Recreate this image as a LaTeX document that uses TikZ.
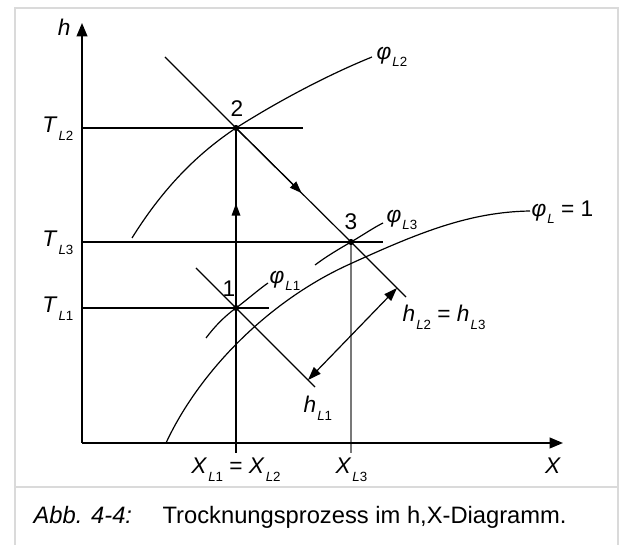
\documentclass[tikz,border=0pt]{standalone}
\usepackage{fontspec}
\setmainfont{Liberation Sans}
\usetikzlibrary{calc,arrows.meta}
\definecolor{framegray}{RGB}{218,218,218}
\definecolor{linegray}{RGB}{120,120,120}
\newcommand{\Lsub}[1]{\kern0.8pt\raisebox{-0.6ex}{\fontsize{10}{11}\selectfont\textit{L}#1}}
\newcommand{\phiL}[1]{\textit{φ}\Lsub{#1}}

\begin{document}
\begin{tikzpicture}[x=0.75pt, y=-0.75pt, line width=0.9pt,
  every node/.style={font=\fontsize{17}{19}\selectfont, inner sep=0pt},
  axis/.style={line width=1.4pt, -{Triangle[length=10pt, width=8pt]}},
  flow/.style={-{Triangle[length=9pt, width=6.5pt]}}]
  \useasboundingbox (0,0) rectangle (622,545);

  % Frame
  \draw[framegray, line width=1.6pt] (15,550) -- (15,8) -- (618,8) -- (618,550);
  \draw[framegray, line width=1.6pt] (15,487) -- (618,487);

  % Points
  \coordinate (O) at (82,443);
  \coordinate (hend) at (82,23);
  \coordinate (Xend) at (563,443);
  \coordinate (p1) at (236,308);
  \coordinate (p2) at (236,128);
  \coordinate (p3) at (351,242);

  % Isotherms
  \draw (O |- p2) -- (303,128);
  \draw (O |- p3) -- (383,242);
  \draw (O |- p1) -- (269,308);

  % Constant X
  \draw (p2) -- (236,453);
  \draw[linegray] (p3) -- (351,453);

  % Constant h
  \draw (165,57) -- (p2) -- (p3) -- (406,297);
  \draw (196,268) -- (p1) -- (315,387);

  % Relative humidity
  \draw (132,238) .. controls (165,185) and (200,152) .. (p2) .. controls (280,100) and (330,74) .. (372,57);
  \draw (206,338) .. controls (215,326) and (225,316) .. (p1) .. controls (248,299) and (258,290) .. (268,283);
  \draw (315,265) .. controls (327,256) and (339,249) .. (p3) .. controls (363,235) and (373,228) .. (383,223);
  \draw (166,443) .. controls (200,370) and (270,300) .. (350,264) .. controls (420,232) and (470,212) .. (530,211);

  % Process
  \draw[flow] (p1) -- ($(p1)!0.58!(p2)$);
  \draw[flow] (p2) -- ($(p2)!0.57!(p3)$);
  \coordinate (dh1) at (308,380);
  \coordinate (dh2) at (397,288);
  \draw[{Triangle[length=10pt, width=7pt]}-{Triangle[length=10pt, width=7pt]}] (dh1) -- (dh2);

  \fill (p1) circle[radius=2.3pt];
  \fill (p2) circle[radius=2.3pt];
  \fill (p3) circle[radius=2.3pt];

  % Axes
  \draw[axis] (O) -- (hend);
  \draw[axis] (O) -- (Xend);

  % Labels
  \node[anchor=base east] (hlab) at (71,36) {\textit{h}};
  \node[anchor=base] (Xlab) at (553,474) {\textit{X}};
  \node[anchor=base east] (TL2) at (74,133) {\textit{T}\Lsub{2}};
  \node[anchor=base east] (TL3) at (74,247) {\textit{T}\Lsub{3}};
  \node[anchor=base east] (TL1) at (74,313) {\textit{T}\Lsub{1}};
  \node[anchor=base] (XL12) at (236,474) {\textit{X}\Lsub{1} = \textit{X}\Lsub{2}};
  \node[anchor=base west] (XL3) at (335,474) {\textit{X}\Lsub{3}};
  \node[anchor=base] (n1) at (229,297) {1};
  \node[anchor=base] (n2) at (237,117) {2};
  \node[anchor=base] (n3) at (351,230) {3};
  \node[anchor=base west] (hL1) at (303,413) {\textit{h}\Lsub{1}};
  \node[anchor=base west] (hL23) at (402,322) {\textit{h}\Lsub{2} = \textit{h}\Lsub{3}};
  \node[anchor=west] (phi2) at (376,57) {\phiL{2}};
  \node[anchor=west] (phi3) at (386,220) {\phiL{3}};
  \node[anchor=west] (phi1) at (269,281) {\phiL{1}};
  \node[anchor=west] (phi) at (531,212) {\phiL{}\ = 1};

  % Caption
  \node[anchor=base west, font=\fontsize{17.8}{20}\selectfont] (abb) at (33,524) {\textit{Abb. 4-4:}};
  \node[anchor=base west, font=\fontsize{17.8}{20}\selectfont] (cap) at (162,524) {Trocknungsprozess im h,X-Diagramm.};
\end{tikzpicture}
\end{document}
